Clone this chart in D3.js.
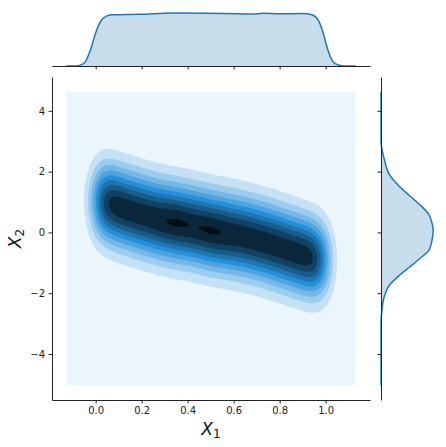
<!DOCTYPE html>
<html>
<head>
<meta charset="utf-8">
<script src="https://cdn.jsdelivr.net/npm/d3@7"></script>
<style>
  body { margin: 0; background: #fff; }
  text { font-family: "DejaVu Sans", sans-serif; }
</style>
</head>
<body>
<div id="chart"></div>
<script>
// joint density: ridge of the cloud
const ridgeX1 = [0.025, 0.075, 0.125, 0.175, 0.225, 0.275, 0.325, 0.375, 0.425, 0.475,
                 0.525, 0.575, 0.625, 0.675, 0.725, 0.775, 0.825, 0.875, 0.925, 0.975];
const ridgeX2 = [1.04, 0.9, 0.77, 0.65, 0.535, 0.42, 0.35, 0.28, 0.21, 0.11,
                 0.02, -0.03, -0.11, -0.2, -0.3, -0.42, -0.55, -0.68, -0.8, -0.93];
const ridgeWeight = [1, 1, 1, 1, 1, 1, 1.04, 1.04, 1, 1.04,
                     1.04, 1, 1, 1, 1, 1, 1, 1, 1, 1];
const bandwidth = [0.042, 0.86];          // x1, x2
const gridX1 = [-0.127, 1.13];
const gridX2 = [-5.03, 4.63];
const nBands = 11;

// marginal curves
const margX1 = [-0.127, -0.088, -0.052, -0.023, -0.001, 0.02, 0.049, 0.071, 0.19, 0.338, 0.48,
                0.62, 0.68, 0.73, 0.8, 0.9, 0.94, 0.968, 0.99, 1.01, 1.033, 1.06, 1.08, 1.13];
const margX1Dens = [0, 0, 0.044, 0.30, 0.62, 0.845, 0.96, 0.98, 0.99, 1.015, 1.01,
                    1.0, 0.993, 1.01, 0.998, 1.004, 0.98, 0.877, 0.62, 0.30, 0.077, 0.013, 0, 0];
const margX2 = [4.63, 3.0, 2.4, 1.9, 1.5, 1.2, 0.9, 0.6, 0.3, 0.08, -0.25, -0.6, -0.85,
                -1.13, -1.4, -1.73, -2.1, -2.55, -3.0, -5.03];
const margX2Dens = [0, 0, 0.024, 0.06, 0.133, 0.205, 0.278, 0.338, 0.362, 0.37, 0.362, 0.338, 0.278,
                    0.205, 0.133, 0.06, 0.024, 0.007, 0, 0];

const xTicks = [0, 0.2, 0.4, 0.6, 0.8, 1.0];
const yTicks = [-4, -2, 0, 2, 4];

const width = 446;
const height = 447;
const jointLeft = 52, jointRight = 370, jointTop = 77, jointBottom = 400;
const margXBase = 66, margXTop = 10.3;
const margYBase = 381, margYEnd = 435.8;

const base = "#1f77b4";
const bandColor = i => d3.hsl(204.5, 0.706, 1 - (i + 0.5) / nBands).formatHex();

const padded = g => [g[0] - 0.05 * (g[1] - g[0]), g[1] + 0.05 * (g[1] - g[0])];

const x = d3.scaleLinear().domain(padded(gridX1)).range([jointLeft, jointRight]);
const y = d3.scaleLinear().domain(padded(gridX2)).range([jointBottom, jointTop]);

const svg = d3.select("#chart").append("svg")
    .attr("width", width)
    .attr("height", height)
    .attr("viewBox", [0, 0, width, height]);

// density on a grid
const nx = 240, ny = 260;
const dx = (gridX1[1] - gridX1[0]) / nx;
const dy = (gridX2[1] - gridX2[0]) / ny;
const values = new Float64Array(nx * ny);
for (let j = 0; j < ny; j++) {
  const yy = gridX2[1] - (j + 0.5) * dy;
  for (let i = 0; i < nx; i++) {
    const xx = gridX1[0] + (i + 0.5) * dx;
    let s = 0;
    for (let k = 0; k < ridgeX1.length; k++) {
      const u = (xx - ridgeX1[k]) / bandwidth[0];
      const v = (yy - ridgeX2[k]) / bandwidth[1];
      s += ridgeWeight[k] * Math.exp(-0.5 * (u * u + v * v));
    }
    values[j * nx + i] = s;
  }
}
const zmax = d3.max(values);
const step = zmax / (nBands - 0.9);
const thresholds = d3.range(1, nBands).map(i => i * step);

const proj = d3.geoTransform({
  point(px, py) {
    this.stream.point(x(gridX1[0] + px * dx), y(gridX2[1] - py * dy));
  }
});
const path = d3.geoPath(proj);

svg.append("rect")
    .attr("x", x(gridX1[0]))
    .attr("y", y(gridX2[1]))
    .attr("width", x(gridX1[1]) - x(gridX1[0]))
    .attr("height", y(gridX2[0]) - y(gridX2[1]))
    .attr("fill", bandColor(0));

svg.append("g")
  .selectAll("path")
  .data(d3.contours().size([nx, ny]).thresholds(thresholds)(values))
  .join("path")
    .attr("d", path)
    .attr("fill", (d, i) => bandColor(i + 1));

// axes of the joint plot
const styleAxis = g => {
  g.selectAll(".domain").attr("stroke", "#222").attr("stroke-width", 1);
  g.selectAll(".tick line").attr("stroke", "#222");
  g.selectAll(".tick text").attr("fill", "#222").attr("font-size", 10)
      .attr("font-family", "DejaVu Sans");
};

svg.append("g")
    .attr("transform", `translate(0,${jointBottom})`)
    .call(d3.axisBottom(x).tickValues(xTicks).tickFormat(d3.format(".1f"))
      .tickSize(3.5).tickPadding(3.5).tickSizeOuter(0))
    .call(styleAxis);

svg.append("g")
    .attr("transform", `translate(${jointLeft},0)`)
    .call(d3.axisLeft(y).tickValues(yTicks).tickFormat(d3.format("d"))
      .tickSize(3.5).tickPadding(3.5).tickSizeOuter(0))
    .call(styleAxis);

// top marginal
const ym = d3.scaleLinear().domain([0, d3.max(margX1Dens) * 1.05]).range([margXBase, margXTop]);
const topData = margX1.map((v, i) => [v, margX1Dens[i]]);
svg.append("path")
    .datum(topData)
    .attr("fill", base).attr("fill-opacity", 0.25)
    .attr("d", d3.area().x(d => x(d[0])).y0(ym(0)).y1(d => ym(d[1])).curve(d3.curveMonotoneX));
svg.append("path")
    .datum(topData)
    .attr("fill", "none").attr("stroke", base).attr("stroke-width", 1.5)
    .attr("d", d3.line().x(d => x(d[0])).y(d => ym(d[1])).curve(d3.curveMonotoneX));
svg.append("g")
    .attr("transform", `translate(0,${margXBase})`)
    .call(d3.axisBottom(x).tickValues(xTicks).tickFormat("").tickSize(3.5).tickSizeOuter(0))
    .call(styleAxis);

// right marginal
const xm = d3.scaleLinear().domain([0, d3.max(margX2Dens) * 1.05]).range([margYBase, margYEnd]);
const rightData = margX2.map((v, i) => [v, margX2Dens[i]]);
svg.append("path")
    .datum(rightData)
    .attr("fill", base).attr("fill-opacity", 0.25)
    .attr("d", d3.area().y(d => y(d[0])).x0(xm(0)).x1(d => xm(d[1])).curve(d3.curveMonotoneY));
svg.append("path")
    .datum(rightData)
    .attr("fill", "none").attr("stroke", base).attr("stroke-width", 1.5)
    .attr("d", d3.line().y(d => y(d[0])).x(d => xm(d[1])).curve(d3.curveMonotoneY));
svg.append("g")
    .attr("transform", `translate(${margYBase},0)`)
    .call(d3.axisLeft(y).tickValues(yTicks).tickFormat("").tickSize(3.5).tickSizeOuter(0))
    .call(styleAxis);

// axis labels
const xl = svg.append("text")
    .attr("x", (jointLeft + jointRight) / 2)
    .attr("y", 435)
    .attr("text-anchor", "middle")
    .attr("font-size", 17)
    .attr("fill", "#111");
xl.append("tspan").attr("font-style", "italic").text("X");
xl.append("tspan").attr("font-size", 12).attr("dy", 2.5).text("1");

const yl = svg.append("text")
    .attr("transform", `translate(21,${(jointTop + jointBottom) / 2}) rotate(-90)`)
    .attr("text-anchor", "middle")
    .attr("font-size", 17)
    .attr("fill", "#111");
yl.append("tspan").attr("font-style", "italic").text("X");
yl.append("tspan").attr("font-size", 12).attr("dy", 2.5).text("2");
</script>
</body>
</html>
